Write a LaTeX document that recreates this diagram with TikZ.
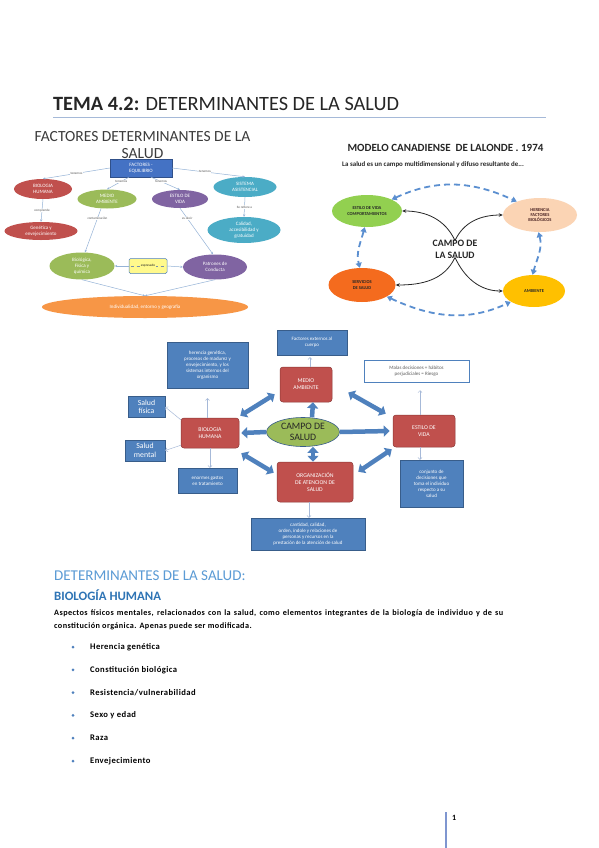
\documentclass[tikz,border=0pt]{standalone}
\usepackage{fontspec}
\setmainfont{Carlito}
\newfontfamily\spacedfont[LetterSpace=5]{Carlito}
\usetikzlibrary{shapes.geometric,arrows.meta,calc}
\definecolor{cRed}{HTML}{C0504D}
\definecolor{cRedD}{HTML}{8C3836}
\definecolor{cGreen}{HTML}{9BBB59}
\definecolor{cPurple}{HTML}{8064A2}
\definecolor{cTeal}{HTML}{4BACC6}
\definecolor{cOrange}{HTML}{F79646}
\definecolor{cBlue}{HTML}{4F81BD}
\definecolor{cBlueD}{HTML}{385D8A}
\definecolor{cBox}{HTML}{4472C4}
\definecolor{cLine}{HTML}{95B3D7}
\definecolor{cThin}{HTML}{A6B9D8}
\definecolor{cLGreen}{HTML}{92D050}
\definecolor{cPeach}{HTML}{FBD4B4}
\definecolor{cOrRed}{HTML}{F46B1E}
\definecolor{cAmber}{HTML}{FFC000}
\definecolor{cDash}{HTML}{5B8FD0}
\definecolor{cHead}{HTML}{5B9BD5}
\definecolor{cHead2}{HTML}{2E74B5}
\definecolor{cText}{HTML}{262626}
\definecolor{cRule}{HTML}{A5B9D8}
\definecolor{cPage}{HTML}{7F96D0}
\newcommand\myfs[2]{\fontsize{#1bp}{#2bp}\selectfont}
\begin{document}
\begin{tikzpicture}[x=1bp,y=-1bp,
  e1/.style={ellipse,inner sep=0pt,text=white,align=center,font=\myfs{5}{5.8}},
  lab/.style={fill=white,inner sep=0.4bp,text=cText!80,font=\myfs{3.3}{3.6}},
  ln/.style={cLine,line width=0.5bp,-{Stealth[length=2.5bp,width=2.2bp]}},
  e2/.style={ellipse,inner sep=0pt,text=cText,align=center,font=\bfseries\myfs{4.5}{5.3}},
  bd/.style={cDash,line width=1.8bp,dash pattern=on 6bp off 4bp,{Triangle[length=5bp,width=6bp]}-{Triangle[length=5bp,width=6bp]}},
  blk/.style={black!85,line width=0.8bp,-{Stealth[length=4bp,width=3.5bp]}},
  rbox/.style={rectangle,rounded corners=3bp,fill=cRed,draw=cRedD,line width=0.5bp,text=white,align=center,font=\myfs{5.8}{7}},
  bbox/.style={rectangle,fill=cBlue,draw=cBlueD,line width=0.4bp,text=white,align=center,font=\myfs{5}{6}},
  fat/.style={cBlue,line width=4.5bp,-{Triangle[length=6bp,width=11bp]}},
  fatd/.style={cBlue,line width=4.5bp,{Triangle[length=6bp,width=11bp]}-{Triangle[length=6bp,width=11bp]}},
  thin/.style={cThin,line width=0.5bp,-{Straight Barb[length=2bp,width=4bp]}}
]
\useasboundingbox[fill=white] (0,0) rectangle (599,848);

% ---------- title ----------
\node[anchor=base west,inner sep=0pt,text=cText,font=\myfs{20.3}{22}] (title) at (53,110) {\textbf{TEMA 4.2:} DETERMINANTES DE LA SALUD};
\coordinate (rulestart) at (53,117);
\coordinate (ruleend) at (546,117);
\draw[cRule,line width=0.8bp] (rulestart) -- (ruleend);

% ---------- diagram 1 ----------
\node[align=center,inner sep=0pt,text=cText!90,font=\myfs{15.5}{16.5}] (d1title) at (142.5,145) {FACTORES DETERMINANTES DE LA\\SALUD};
\node[rectangle,fill=cBox,draw=cBox!70!black,line width=0.3bp,minimum width=62bp,minimum height=18bp,inner sep=0pt,text=white,align=center,font=\myfs{5}{5.8}] (fe) at (141,168) {FACTORES -\\EQUILIBRIO};
\node[e1,fill=cRed,minimum width=58bp,minimum height=20bp] (bh) at (43,189) {BIOLOGIA\\HUMANA};
\node[e1,fill=cGreen,minimum width=59bp,minimum height=19bp] (ma) at (107,199) {MEDIO\\AMBIENTE};
\node[e1,fill=cPurple,minimum width=56bp,minimum height=18bp] (ev) at (180,199) {ESTILO DE\\VIDA};
\node[e1,fill=cTeal,minimum width=63bp,minimum height=20bp] (sa) at (245,187) {SISTEMA\\ASISTENCIAL};
\node[e1,fill=cRed,minimum width=73bp,minimum height=18bp] (ge) at (41,231) {Genética y\\envejecimiento};
\node[e1,fill=cTeal,minimum width=73bp,minimum height=26bp] (ca) at (244,230) {Calidad,\\accesibilidad y\\gratuidad};
\node[e1,fill=cGreen,minimum width=65bp,minimum height=27bp] (bf) at (82,266) {Biológica,\\Física y\\química};
\node[e1,fill=cPurple,minimum width=64bp,minimum height=25bp] (pc) at (215,267) {Patrones de\\Conducta};
\node[e1,fill=cOrange,minimum width=206bp,minimum height=22bp] (ie) at (145,307) {Individualidad, entorno y geografía};
\node[rectangle,rounded corners=1.5bp,fill=yellow!45,draw=cBlue,line width=0.5bp,minimum width=38bp,minimum height=15bp,inner sep=0pt] (ex) at (148,266) {};
\draw[cLine!80!black,line width=0.3bp,dashed] ([shift={(2,0)}]ex.west) -- ([shift={(-2,0)}]ex.east);
\node[fill=yellow!45,inner sep=0.6bp,text=cText,font=\myfs{3.4}{3.8}] (exl) at (ex.center) {expresado};

\draw[ln] (fe.west) -- node[lab,pos=0.5] {tenemos} (bh.north);
\draw[ln] ([shift={(-12,0)}]fe.south) -- node[lab,pos=0.35] {tenemos} (ma.north);
\draw[ln] ([shift={(10,0)}]fe.south) -- node[lab,pos=0.35] {tenemos} (ev.north);
\draw[ln] (fe.east) -- node[lab,pos=0.45] {tenemos} (sa.north);
\draw[ln] (bh.south) -- node[lab] {comprende} (ge.north);
\draw[ln] ([shift={(-6,0)}]ma.south) -- node[lab,pos=0.22] {contaminación} ([shift={(3,0)}]bf.north);
\draw[ln] (ev.south) -- node[lab,pos=0.22] {es decir} ([shift={(-2,0)}]pc.north);
\draw[ln] (sa.south) -- node[lab] {Se refiere a} (ca.north);
\draw[ln] (ex.west) -- (bf.east);
\draw[ln] (ex.east) -- (pc.west);
\draw[ln] (bf.south) -- (ie.north);
\draw[ln] (pc.south) -- (ie.north);

% ---------- diagram 2 ----------
\node[text=cText,font=\bfseries\myfs{11}{12},inner sep=0pt] (d2title) at (445.5,148) {MODELO CANADIENSE\ \ DE LALONDE . 1974};
\node[text=cText,font=\bfseries\myfs{6.9}{8},inner sep=0pt] (d2sub) at (433,164.5) {La salud es un campo multidimensional y difuso resultante de...};
\node[e2,fill=cLGreen,minimum width=70bp,minimum height=32bp] (ev2) at (367,211) {ESTILO DE VIDA\\COMPORTAMIENTOS};
\node[e2,fill=cPeach,minimum width=74bp,minimum height=34bp,text=cText!85!red] (he) at (540,215) {HERENCIA\\FACTORES\\BIOLÓGICOS};
\node[e2,fill=cOrRed,minimum width=67bp,minimum height=34bp] (ss) at (362,285) {SERVICIOS\\DE SALUD};
\node[e2,fill=cAmber,minimum width=62bp,minimum height=32bp] (am) at (534,291) {AMBIENTE};
\node[align=center,text=cText,font=\bfseries\myfs{9.8}{12},inner sep=0pt] (cs) at (455,249) {CAMPO DE\\LA SALUD};

\draw[blk] ([shift={(0,1)}]cs.north) to[out=115,in=0] (ev2.east);
\draw[blk] ([shift={(0,1)}]cs.north) to[out=65,in=180] (he.west);
\draw[blk] ([shift={(0,-1)}]cs.south) to[out=245,in=0] (ss.east);
\draw[blk] ([shift={(0,-1)}]cs.south) to[out=295,in=180] (am.west);

\draw[bd] (ev2.25) to[out=25,in=155] (he.150);
\draw[bd] (he.265) to[out=-75,in=75] (am.95);
\draw[bd] (ss.-25) to[out=-25,in=205] (am.205);
\draw[bd] (ev2.262) to[out=-105,in=105] (ss.97);

% ---------- diagram 3 ----------
\node[ellipse,inner sep=0pt,fill=cGreen,draw=cBlueD,line width=0.6bp,minimum width=73bp,minimum height=29bp,align=center,text=cText,font=\myfs{9.8}{10.8}] (cam) at (303,432) {CAMPO DE\\SALUD};
\node[rbox,minimum width=52bp,minimum height=35bp] (med) at (306,384.5) {MEDIO\\AMBIENTE};
\node[rbox,minimum width=58bp,minimum height=30bp] (bio) at (210,433) {BIOLOGIA\\HUMANA};
\node[rbox,minimum width=62bp,minimum height=32bp] (est) at (424,431) {ESTILO DE\\VIDA};
\node[rbox,minimum width=76bp,minimum height=40bp] (org) at (315,482) {ORGANIZACIÓN\\DE ATENCION DE\\SALUD};

\node[bbox,minimum width=70bp,minimum height=25bp] (fac) at (312,342.5) {Factores externos al\\cuerpo};
\node[bbox,minimum width=81bp,minimum height=46bp] (her) at (207.5,365) {herencia genética,\\procesos de madurez y\\envejecimiento, y los\\sistemas internos del\\organismo};
\node[rectangle,fill=white,draw=cBlue,line width=0.5bp,minimum width=105bp,minimum height=22bp,align=center,text=cText!75,font=\myfs{5}{6}] (mal) at (416.5,371) {Malas decisiones + hábitos\\perjudiciales = Riesgo};
\node[bbox,minimum width=37bp,minimum height=20bp,font=\myfs{7.8}{8.6}] (sf) at (146.5,407) {Salud\\física};
\node[bbox,minimum width=40bp,minimum height=19bp,font=\myfs{7.8}{8.6}] (sm) at (145,450.5) {Salud\\mental};
\node[bbox,minimum width=59bp,minimum height=25bp] (eno) at (207.5,480.5) {enormes gastos\\en tratamiento};
\node[bbox,minimum width=63bp,minimum height=47bp] (con) at (431.5,483.5) {conjunto de\\decisiones que\\toma el individuo\\respecto a su\\salud};
\node[bbox,minimum width=114bp,minimum height=32bp] (cant) at (308,534) {cantidad, calidad,\\orden, índole y relaciones de\\personas y recursos en la\\prestación de la atención de salud};

\draw[fat] ([shift={(9,0)}]cam.north) -- ([shift={(7,0)}]med.south);
\draw[fat] (cam.west) -- ([shift={(2,0)}]bio.east);
\draw[fat] (cam.east) -- ([shift={(-3,0)}]est.west);
\draw[fatd] ([shift={(10,0)}]cam.south) -- ([shift={(-2,0)}]org.north);
\draw[fatd] ([shift={(1,-2)}]bio.north east) -- ([shift={(-5,-8)}]med.south west);
\draw[fatd] ([shift={(16,8)}]med.east) -- ([shift={(-7,-1)}]est.north west);
\draw[fatd] ([shift={(2,5)}]bio.south east) -- ([shift={(-3,11)}]org.north west);
\draw[fatd] ([shift={(5,10)}]org.north east) -- ([shift={(-1,2)}]est.south west);

\draw[thin] ([shift={(4,0)}]med.north) -- ([shift={(-2,2)}]fac.south);
\draw[thin] (bio.north -| her.south) -- ([shift={(0,10)}]her.south);
\draw[thin] ([shift={(0,2)}]bio.north west) -- (sf.east);
\draw[thin] ([shift={(0,-3)}]bio.south west) -- (sm.east);
\draw[thin] (bio.south) -- (bio.south |- eno.north);
\draw[thin] ([shift={(-4,0)}]est.north) -- ([shift={(-4,8)}]est.north |- mal.south);
\draw[thin] ([shift={(-4,0)}]est.south) -- ([shift={(-4,0)}]est.south |- con.north);
\draw[thin] ([shift={(-6,0)}]org.south) -- ([shift={(-6,0)}]org.south |- cant.north);

% ---------- text section ----------
\node[anchor=base west,inner sep=0pt,text=cHead,font=\myfs{15}{17}] (h1) at (54,580) {DETERMINANTES DE LA SALUD:};
\node[anchor=base west,inner sep=0pt,text=cHead2,font=\bfseries\myfs{12.8}{14}] (h2) at (54,600.5) {BIOLOGÍA HUMANA};
\node[anchor=base west,inner sep=0pt,text=black,font=\spacedfont\bfseries\myfs{8.2}{10}] (p1) at (54,615) {\makebox[449bp][s]{Aspectos físicos mentales, relacionados con la salud, como elementos integrantes de la biología de individuo y de su}};
\node[anchor=base west,inner sep=0pt,text=black,font=\spacedfont\bfseries\myfs{8.2}{10}] (p2) at (54,628) {constitución orgánica. Apenas puede ser modificada.};
\foreach \t [count=\i] in {Herencia genética,Constitución biológica,Resistencia/vulnerabilidad,Sexo y edad,Raza,Envejecimiento}{
  \node[circle,fill=cBlue,inner sep=0pt,minimum size=3bp] (bul\i) at (73,{647+22.8*(\i-1)}) {};
  \node[anchor=west,inner sep=0pt,text=black,font=\spacedfont\bfseries\myfs{8.6}{10}] (it\i) at (90,{647+22.8*(\i-1)}) {\t};
}

% ---------- page number ----------
\coordinate (pgtop) at (446,812);
\coordinate (pgbot) at (446,848);
\draw[cPage,line width=2.4bp] (pgtop) -- (pgbot);
\node[anchor=west,inner sep=0pt,text=black,font=\bfseries\myfs{8}{9}] (pnum) at (452,818) {1};
\end{tikzpicture}
\end{document}
